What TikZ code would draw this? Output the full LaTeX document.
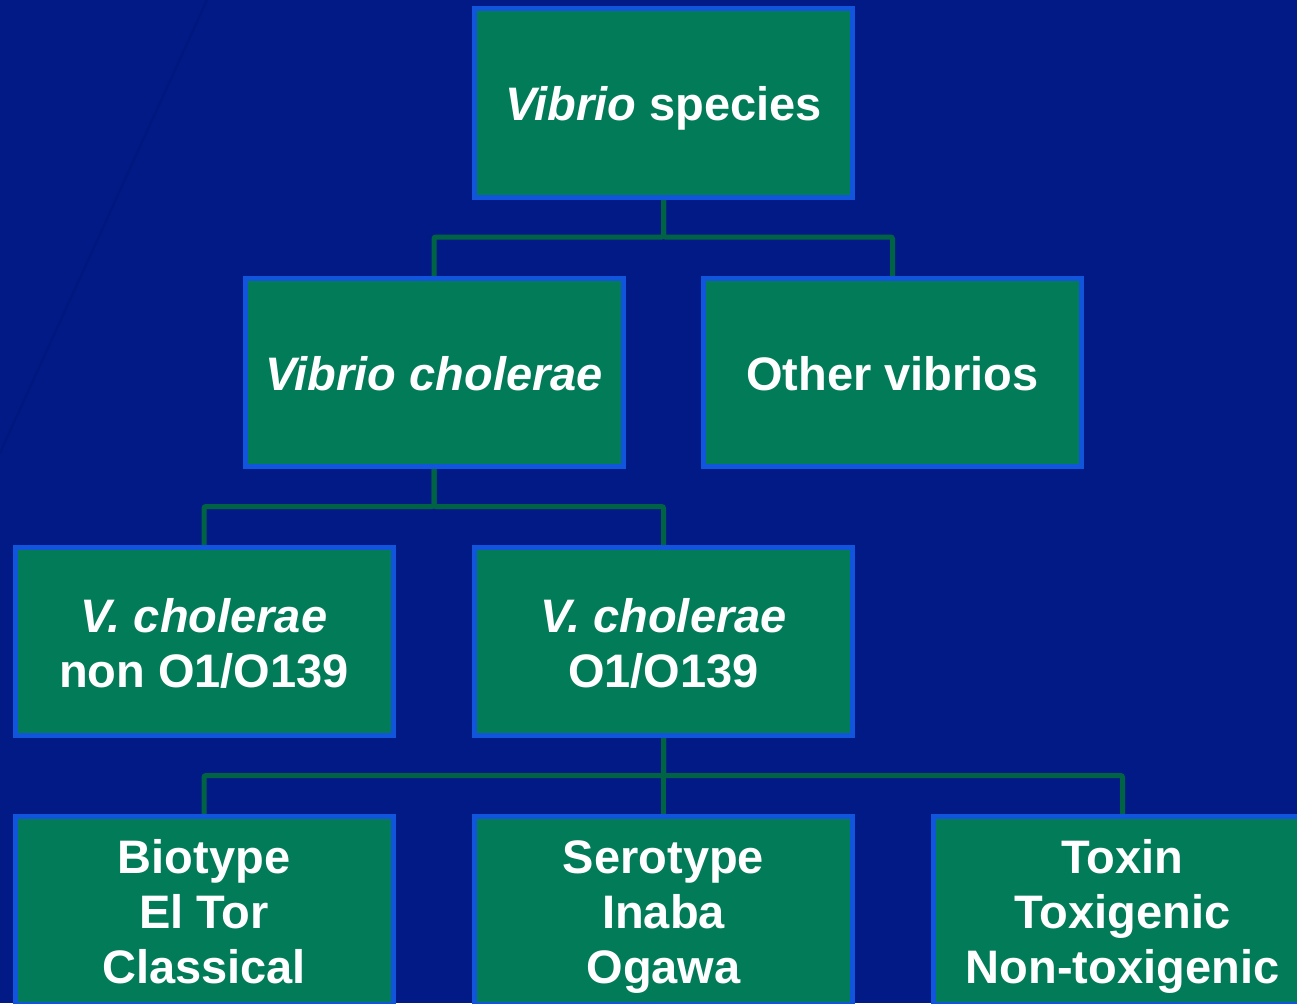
\documentclass[tikz,border=0pt]{standalone}
\usepackage{fontspec}
\setmainfont{Liberation Sans}
\definecolor{bg}{RGB}{1,26,134}
\definecolor{bgline}{RGB}{0,23,126}
\definecolor{boxfill}{RGB}{2,124,88}
\definecolor{boxline}{RGB}{17,85,221}
\definecolor{conn}{RGB}{0,100,68}
\newcommand\boxstrut{\rule[-8.4pt]{0pt}{53.4pt}}
\newcommand\stacklines[1]{\raisebox{-7pt}[\height][\depth]{\begin{tabular}{@{}c@{}}#1\end{tabular}}}
\pgfdeclarelayer{backdrop}
\pgfdeclarelayer{links}
\pgfsetlayers{backdrop,links,main}
\begin{document}
\begin{tikzpicture}[x=1pt,y=-1pt,
  box/.style={draw=boxline, fill=boxfill, line width=5pt, minimum width=378pt,
    minimum height=188pt, inner sep=0pt, text=white,
    font=\fontsize{47}{55}\selectfont\bfseries},
  single/.style={box, execute at begin node=\boxstrut, execute at end node=\boxstrut},
  link/.style={draw=conn, line width=5pt, rounded corners=2pt}]
\useasboundingbox (0,0) rectangle (1297,1003);
\clip (0,0) rectangle (1297,1003);
\begin{pgfonlayer}{backdrop}
\fill[bg] (0,0) rectangle (1297,1003);
\draw[bgline, line width=2pt] (207,0) -- (0,453);
\end{pgfonlayer}

\node[single] (top)  at (663.5,103)   {\textit{Vibrio} species};
\node[single] (vc)   at (434,372.5)   {\textit{Vibrio cholerae}};
\node[single] (ov)   at (892.5,372.5) {Other vibrios};
\node[box] (non)  at (204,641.5)   {\stacklines{\textit{V. cholerae}\\non O1/O139}};
\node[box] (o1)   at (663.5,641.5) {\stacklines{\textit{V. cholerae}\\O1/O139}};
\node[box] (bio)  at (204,910.5)   {\stacklines{Biotype\\El Tor\\Classical}};
\node[box] (sero) at (663.5,910.5) {\stacklines{Serotype\\Inaba\\Ogawa}};
\node[box] (tox)  at (1122.5,910.5){\stacklines{Toxin\\Toxigenic\\Non-toxigenic}};

\begin{pgfonlayer}{links}
\draw[link] (top.south) -- ++(0,37.5) -| (vc.north);
\draw[link] (top.south) -- ++(0,37.5) -| (ov.north);
\draw[link] (vc.south) -- ++(0,37.5) -| (non.north);
\draw[link] (vc.south) -- ++(0,37.5) -| (o1.north);
\draw[link] (o1.south) -- ++(0,37.5) -| (bio.north);
\draw[link] (o1.south) -- (sero.north);
\draw[link] (o1.south) -- ++(0,37.5) -| (tox.north);
\end{pgfonlayer}
\end{tikzpicture}
\end{document}
